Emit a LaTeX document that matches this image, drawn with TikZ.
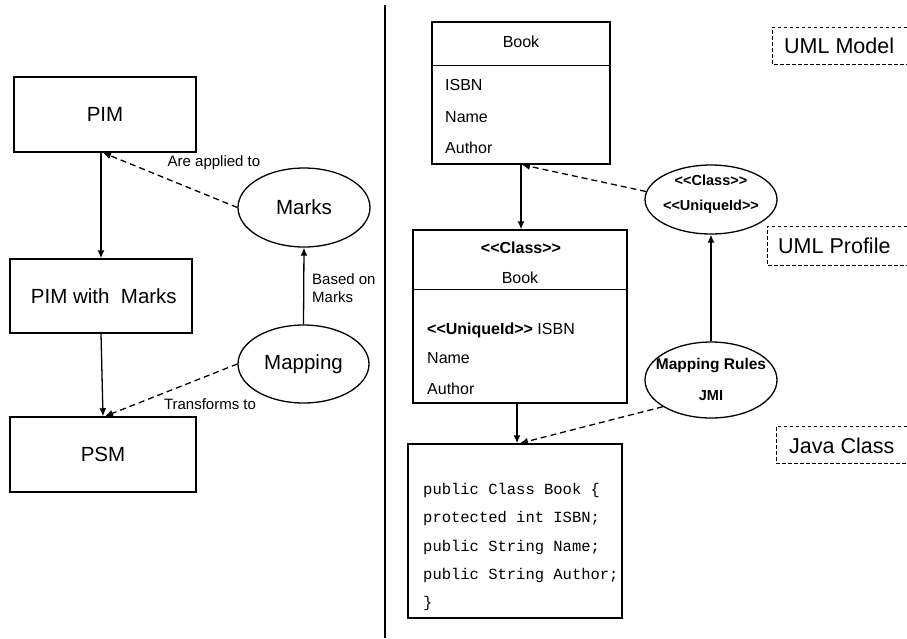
\documentclass[tikz,border=0pt]{standalone}
\usepackage{fontspec}
\setmainfont{Liberation Sans}[Ligatures=TeXOff]
\setmonofont{Liberation Mono}
\usetikzlibrary{shapes.geometric,arrows.meta}

\begin{document}
\begin{tikzpicture}[x=1pt,y=-1pt,
  box/.style={draw, line width=1.5pt, rectangle, inner sep=0pt},
  oval/.style={draw, line width=1.3pt, ellipse, inner sep=0pt},
  flow/.style={line width=1.3pt, -{Latex[length=8pt,width=7pt]}},
  hint/.style={flow, dash pattern=on 6pt off 4pt},
  tagline/.style={line width=1pt, dash pattern=on 3.5pt off 2.5pt},
  txt/.style={inner sep=0pt},
  big/.style={font=\fontsize{20.5}{24}\selectfont},
  mid/.style={font=\fontsize{15}{18}\selectfont},
  cls/.style={font=\fontsize{16}{19}\selectfont},
  clsb/.style={font=\fontsize{16}{19}\selectfont\bfseries},
  ovb/.style={font=\fontsize{14.5}{17}\selectfont\bfseries},
  tagtxt/.style={font=\fontsize{21.5}{25}\selectfont}
]
\useasboundingbox (0,0) rectangle (907,638);

% ---------------- MDA overview (left) ----------------
\node[box, big, minimum width=182pt, minimum height=75pt] (pim) at (105,114.5) {PIM};
\node[box, big, minimum width=182pt, minimum height=74pt] (pimm) at (101,296) {\ PIM with\ \ Marks};
\node[box, big, minimum width=186pt, minimum height=75pt] (psm) at (103,454.5) {PSM};
\node[oval, big, minimum width=132pt, minimum height=79pt] (marks) at (304,207.5) {Marks};
\node[oval, big, minimum width=131pt, minimum height=78pt] (mapping) at (303.5,364) {Mapping};

\draw[flow] (pim.south -| pimm.north) -- (pimm.north);
\draw[flow] (pimm.south) -- (psm.north);
\draw[hint] (marks.west) -- ([xshift=-2pt]pim.south);
\draw[flow] (mapping.north) -- (marks.south);
\draw[hint] (mapping.west) -- ([xshift=2pt]psm.north);

\node[txt, mid] (lapplied) at (214,163) {Are applied to};
\node[txt, mid] (ltrans) at (210,404) {Transforms to};
\node[txt, mid, anchor=west, align=left, font=\fontsize{15}{18.5}\selectfont] (lbased) at (312,288) {Based on\\Marks};

% divider
\coordinate (dtop) at (385,5);
\coordinate (dbot) at (385,638);
\draw[line width=1.2pt] (dtop) -- (dbot);

% ---------------- Example (right) ----------------
% UML class
\node[box, minimum width=178pt, minimum height=142pt] (book) at (521,93) {};
\draw[line width=1.5pt] ([yshift=-44pt]book.north west) -- ([yshift=-44pt]book.north east);
\node[txt, cls] (bookname) at (521,42) {Book};
\node[txt, cls, anchor=west] (b1) at (445,85) {ISBN};
\node[txt, cls, anchor=west] (b2) at (445,117) {Name};
\node[txt, cls, anchor=west] (b3) at (445,148) {Author};

% profiled class
\node[box, minimum width=214pt, minimum height=173pt] (pbook) at (520,316.5) {};
\draw[line width=1.5pt] ([yshift=-60pt]pbook.north west) -- ([yshift=-60pt]pbook.north east);
\node[txt, clsb] (pster) at (521,248) {<<Class>>};
\node[txt, cls] (pname) at (520,278) {Book};
\node[txt, cls, anchor=west] (p1) at (427,330) {\textbf{<<UniqueId>>} ISBN};
\node[txt, cls, anchor=west] (p2) at (427,358) {Name};
\node[txt, cls, anchor=west] (p3) at (427,389) {Author};

% Java class
\node[box, minimum width=214pt, minimum height=174pt] (java) at (515,531) {};
\node[txt, anchor=west, align=left, font=\fontsize{15.5}{28.25}\selectfont\ttfamily] (code) at (423,547)
  {public Class Book \{\\protected int ISBN;\\public String Name;\\public String Author;\\\}};

% profile and rules ellipses
\node[oval, minimum width=132pt, minimum height=69pt] (stereo) at (711,199.5) {};
\node[txt, ovb] (st1) at (711,180) {<<Class>>};
\node[txt, ovb] (st2) at (711,207) {<<UniqueId>>};
\node[oval, minimum width=132pt, minimum height=76pt] (rules) at (711,380) {};
\node[txt, font=\fontsize{15.5}{18}\selectfont\bfseries] (r1) at (711,366) {Mapping Rules};
\node[txt, ovb] (r2) at (711,396) {JMI};

% connectors
\coordinate (jtop) at ([xshift=2pt]java.north);
\draw[flow] (book.south) -- (pbook.north -| book.south);
\draw[hint] (stereo.173) -- ([xshift=1pt]book.south);
\draw[flow] (rules.north) -- (stereo.south);
\draw[flow] (pbook.south -| jtop) -- (jtop);
\draw[hint] (rules.209) -- ([xshift=5pt]java.north);

% level tags
\coordinate (m1) at (907,27); \coordinate (m2) at (772,27);
\coordinate (m3) at (772,64); \coordinate (m4) at (907,64);
\draw[tagline] (m1) -- (m2) -- (m3) -- (m4);
\node[txt, tagtxt, anchor=west] (tmodel) at (784,45.5) {UML Model};

\coordinate (f1) at (907,226); \coordinate (f2) at (767,226);
\coordinate (f3) at (767,265); \coordinate (f4) at (907,265);
\draw[tagline] (f1) -- (f2) -- (f3) -- (f4);
\node[txt, tagtxt, anchor=west] (tprofile) at (778,246) {UML Profile};

\coordinate (j1) at (907,426); \coordinate (j2) at (776,426);
\coordinate (j3) at (776,463); \coordinate (j4) at (907,463);
\draw[tagline] (j1) -- (j2) -- (j3) -- (j4);
\node[txt, tagtxt, anchor=west] (tjava) at (789,446) {Java Class};
\end{tikzpicture}
\end{document}
